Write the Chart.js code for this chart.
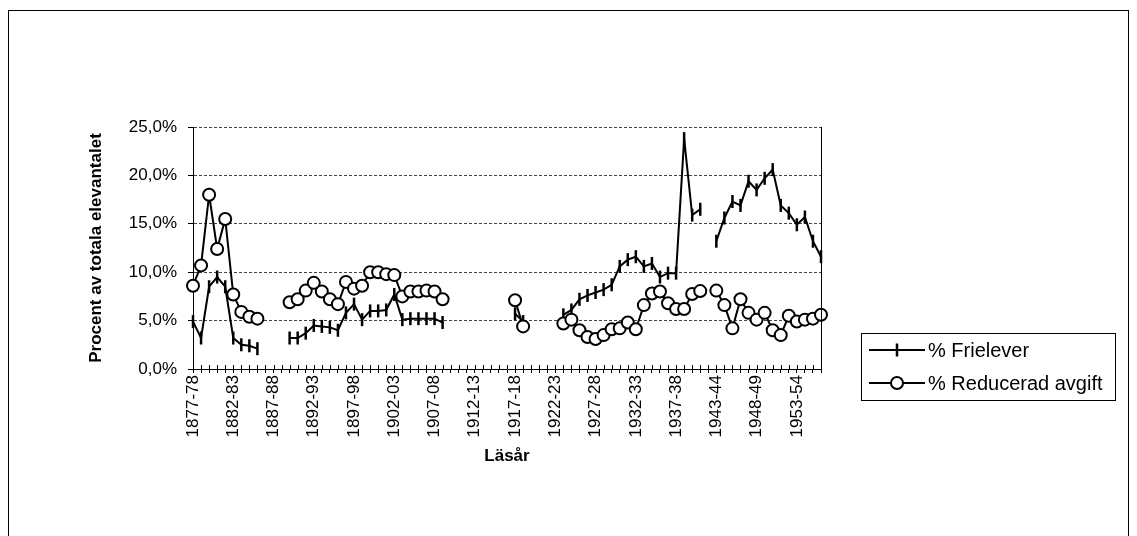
<!DOCTYPE html>
<html lang="sv">
<head>
<meta charset="utf-8">
<title>Friplatser och reducerad avgift</title>
<script src="https://cdn.jsdelivr.net/npm/chart.js@4"></script>
<style>
    html, body { margin: 0; padding: 0; background: #fff; overflow: hidden; }
    #wrap { position: relative; width: 1137px; height: 536px; }
</style>
</head>
<body>
<div id="wrap">
    <canvas id="elevChart" width="1137" height="536"></canvas>
</div>
<script>
// 1. Data (procent av totala elevantalet)
const years = [
    '1877-78', '1878-79', '1879-80', '1880-81', '1881-82', '1882-83', '1883-84', '1884-85', '1885-86', '1886-87',
    '1887-88', '1888-89', '1889-90', '1890-91', '1891-92', '1892-93', '1893-94', '1894-95', '1895-96', '1896-97',
    '1897-98', '1898-99', '1899-00', '1900-01', '1901-02', '1902-03', '1903-04', '1904-05', '1905-06', '1906-07',
    '1907-08', '1908-09', '1909-10', '1910-11', '1911-12', '1912-13', '1913-14', '1914-15', '1915-16', '1916-17',
    '1917-18', '1918-19', '1919-20', '1920-21', '1921-22', '1922-23', '1923-24', '1924-25', '1925-26', '1926-27',
    '1927-28', '1928-29', '1929-30', '1930-31', '1931-32', '1932-33', '1933-34', '1934-35', '1935-36', '1936-37',
    '1937-38', '1938-39', '1939-40', '1940-41', '1942-43', '1943-44', '1944-45', '1945-46', '1946-47', '1947-48',
    '1948-49', '1949-50', '1950-51', '1951-52', '1952-53', '1953-54', '1954-55', '1955-56', '1956-57'
];

const frielever = [
    4.9, 3.2, 8.5, 9.5, 8.5, 3.2, 2.5, 2.4, 2.1, null, null, null,
    3.2, 3.2, 3.7, 4.5, 4.4, 4.3, 4.0, 5.8, 6.7, 5.1,
    6.0, 6.0, 6.1, 7.7, 5.1, 5.2, 5.2, 5.2, 5.2, 4.8,
    null, null, null, null, null, null, null, null,
    5.7, 4.9, null, null, null, null,
    5.6, 6.1, 7.2, 7.6, 7.9, 8.2, 8.7, 10.6, 11.3, 11.6, 10.6, 10.9, 9.5, 9.9, 9.9,
    23.8, 15.9, 16.5, null,
    13.2, 15.6, 17.3, 16.9, 19.4, 18.5, 19.7, 20.6, 16.9, 16.1, 14.9, 15.7, 13.2, 11.6
];

const reducerad = [
    8.6, 10.7, 18.0, 12.4, 15.5, 7.7, 5.9, 5.4, 5.2, null, null, null,
    6.9, 7.2, 8.1, 8.9, 8.0, 7.2, 6.7, 9.0, 8.3, 8.6,
    10.0, 10.0, 9.8, 9.7, 7.5, 8.0, 8.0, 8.1, 8.0, 7.2,
    null, null, null, null, null, null, null, null,
    7.1, 4.4, null, null, null, null,
    4.7, 5.1, 4.0, 3.3, 3.1, 3.5, 4.1, 4.2, 4.8, 4.1, 6.6, 7.8, 8.0, 6.8, 6.2,
    6.2, 7.75, 8.05, null,
    8.1, 6.6, 4.2, 7.2, 5.8, 5.1, 5.8, 4.0, 3.5, 5.5, 4.9, 5.1, 5.2, 5.6
];

const seriesNames = ['% Frielever', '% Reducerad avgift'];
const yTicks = [0, 5, 10, 15, 20, 25];

// 2. Typsnitt
const FONT = 'Liberation Sans, Arial, sans-serif';
const tickFont = { family: FONT, size: 17 };
const titleFont = { family: FONT, size: 17, weight: 'bold' };

/**
 * Ritar ram, högerkant, korsande streck på x-axeln och förklaringen
 */
const decorPlugin = {
    id: 'decor',
    afterDraw(chart) {
        const ctx = chart.ctx;
        const area = chart.chartArea;
        const xs = chart.scales.x;
        ctx.save();
        ctx.strokeStyle = '#000';
        ctx.lineWidth = 1;

        // yttre ram
        ctx.strokeRect(8.5, 10.5, 1120, 600);

        // högerkant av diagramytan
        ctx.beginPath();
        ctx.moveTo(Math.round(area.right) + 0.5, area.top);
        ctx.lineTo(Math.round(area.right) + 0.5, area.bottom);
        ctx.stroke();

        // streck som korsar x-axeln (uppåt)
        ctx.beginPath();
        xs.ticks.forEach((t, i) => {
            const x = Math.round(xs.getPixelForTick(i)) + 0.5;
            ctx.moveTo(x, area.bottom - 4);
            ctx.lineTo(x, area.bottom);
        });
        ctx.stroke();

        // förklaring
        ctx.strokeRect(861.5, 333.5, 254, 67);
        ctx.font = `20px ${FONT}`;
        ctx.fillStyle = '#000';
        ctx.textBaseline = 'middle';
        ctx.textAlign = 'left';
        chart.data.datasets.forEach((ds, i) => {
            const y = 350 + i * 33;
            ctx.lineWidth = 2;
            ctx.beginPath();
            ctx.moveTo(869, y);
            ctx.lineTo(925, y);
            ctx.stroke();
            if (ds.pointStyle === 'circle') {
                ctx.beginPath();
                ctx.arc(897, y, ds.pointRadius, 0, Math.PI * 2);
                ctx.fillStyle = '#fff';
                ctx.fill();
                ctx.lineWidth = ds.pointBorderWidth;
                ctx.stroke();
                ctx.fillStyle = '#000';
            } else {
                ctx.lineWidth = ds.pointBorderWidth;
                ctx.beginPath();
                ctx.moveTo(897, y - ds.pointRadius);
                ctx.lineTo(897, y + ds.pointRadius);
                ctx.stroke();
            }
            ctx.fillText(ds.label, 928, y + 1);
        });
        ctx.restore();
    }
};

// 3. Diagrammet
const ctx = document.getElementById('elevChart').getContext('2d');
const elevChart = new Chart(ctx, {
    type: 'line',
    data: {
        labels: years,
        datasets: [
            {
                label: seriesNames[0],
                data: frielever,
                order: 1,
                borderColor: '#000',
                borderWidth: 2,
                pointStyle: 'line',
                pointRotation: 90,
                pointRadius: 6.5,
                pointBorderWidth: 2.5,
                pointBorderColor: '#000',
                pointBackgroundColor: '#000',
                tension: 0,
                spanGaps: false
            },
            {
                label: seriesNames[1],
                data: reducerad,
                order: 0,
                borderColor: '#000',
                borderWidth: 2,
                pointStyle: 'circle',
                pointRadius: 6,
                pointBorderWidth: 2,
                pointBorderColor: '#000',
                pointBackgroundColor: '#fff',
                tension: 0,
                spanGaps: false
            }
        ]
    },
    options: {
        responsive: false,
        animation: false,
        devicePixelRatio: 1,
        layout: { padding: { left: 86, right: 316, top: 127, bottom: 69 } },
        plugins: {
            legend: { display: false },
            tooltip: { enabled: false }
        },
        scales: {
            x: {
                type: 'category',
                offset: false,
                grid: {
                    display: true,
                    drawOnChartArea: false,
                    drawTicks: true,
                    tickLength: 4,
                    tickColor: '#000'
                },
                border: { display: true, color: '#000', width: 1 },
                ticks: {
                    autoSkip: false,
                    maxRotation: 90,
                    minRotation: 90,
                    padding: 2,
                    color: '#000',
                    font: tickFont,
                    callback: (v, i) => (i % 5 === 0 ? years[i] : '')
                },
                title: { display: true, text: 'Läsår', color: '#000', font: titleFont, padding: 0 },
                afterFit: (s) => { s.height = 98; }
            },
            y: {
                min: 0,
                max: 25,
                afterBuildTicks: (s) => { s.ticks = yTicks.map(v => ({ value: v })); },
                grid: {
                    color: '#444',
                    lineWidth: 1,
                    tickLength: 5,
                    tickColor: '#000'
                },
                border: { display: true, color: '#000', width: 1, dash: [3, 2] },
                ticks: {
                    padding: 11,
                    color: '#000',
                    font: tickFont,
                    callback: (v) => v.toFixed(1).replace('.', ',') + '%'
                },
                title: { display: true, text: 'Procent av totala elevantalet', color: '#000', font: titleFont, padding: 0 },
                afterFit: (s) => { s.width = 107; }
            }
        }
    },
    plugins: [decorPlugin]
});
</script>
</body>
</html>
